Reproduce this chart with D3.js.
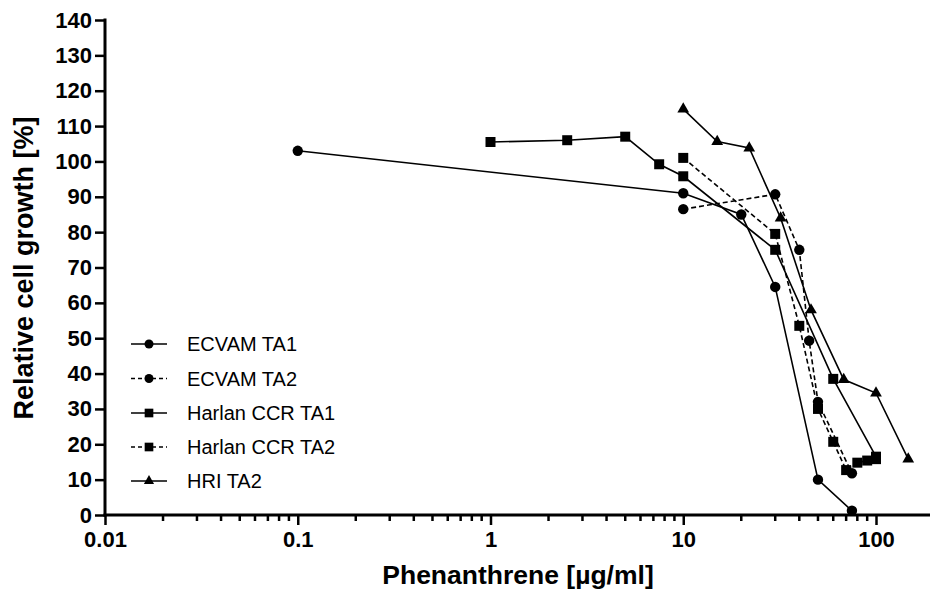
<!DOCTYPE html>
<html><head><meta charset="utf-8">
<script src="https://cdn.jsdelivr.net/npm/d3@7"></script>
<style>html,body{margin:0;padding:0;background:#fff;}svg{display:block;}</style>
</head><body>
<svg id="chart" width="930" height="591"></svg>
<script>
// ---- data ----
const seriesNames = ["ECVAM TA1", "ECVAM TA2", "Harlan CCR TA1", "Harlan CCR TA2", "HRI TA2"];
const ecvamTA1X = [0.1, 10, 20, 30, 50, 75];
const ecvamTA1Y = [103, 91, 85, 64.5, 10, 1.2];
const ecvamTA2X = [10, 30, 40, 45, 50, 75];
const ecvamTA2Y = [86.5, 90.7, 75, 49.3, 32, 11.8];
const harlanTA1X = [1, 2.5, 5, 7.5, 10, 30, 60, 100];
const harlanTA1Y = [105.5, 106, 107, 99.2, 95.8, 75, 38.5, 16.5];
const harlanTA2X = [10, 30, 40, 50, 60, 70, 80, 90, 100];
const harlanTA2Y = [101, 79.5, 53.5, 30, 20.7, 12.7, 14.8, 15.4, 15.8];
const hriTA2X = [10, 15, 22, 32, 46, 68, 100, 147];
const hriTA2Y = [114.8, 105.6, 103.8, 84, 58, 38.3, 34.5, 15.8];
const xTickValues = [0.01, 0.1, 1, 10, 100];
const xTickLabels = ["0.01", "0.1", "1", "10", "100"];
const yTickValues = [0, 10, 20, 30, 40, 50, 60, 70, 80, 90, 100, 110, 120, 130, 140];

// ---- build ----
const series = [
  {name: seriesNames[0], xs: ecvamTA1X, ys: ecvamTA1Y, sym: d3.symbolCircle, dash: null},
  {name: seriesNames[1], xs: ecvamTA2X, ys: ecvamTA2Y, sym: d3.symbolCircle, dash: "5,3"},
  {name: seriesNames[2], xs: harlanTA1X, ys: harlanTA1Y, sym: d3.symbolSquare, dash: null},
  {name: seriesNames[3], xs: harlanTA2X, ys: harlanTA2Y, sym: d3.symbolSquare, dash: "5,3"},
  {name: seriesNames[4], xs: hriTA2X, ys: hriTA2Y, sym: d3.symbolTriangle, dash: null}
];
const symSize = {circle: 85, square: 100, triangle: 60};
function sizeOf(sym){ return sym===d3.symbolCircle?symSize.circle:(sym===d3.symbolSquare?symSize.square:symSize.triangle); }

const svg = d3.select("#chart");
const x = d3.scaleLog().domain([0.01, 200]).range([105, 105 + 192.75 * Math.log10(20000)]);
const y = d3.scaleLinear().domain([0, 140]).range([515, 20]);

const font = "Arial, 'Liberation Sans', sans-serif";

// series lines
const line = d3.line().x(d => x(d[0])).y(d => y(d[1]));
series.forEach(s => {
  const pts = s.xs.map((v, i) => [v, s.ys[i]]);
  svg.append("path").datum(pts)
    .attr("d", line).attr("fill", "none").attr("stroke", "#000")
    .attr("stroke-width", 1.6)
    .attr("stroke-dasharray", s.dash);
});
series.forEach(s => {
  const pts = s.xs.map((v, i) => [v, s.ys[i]]);
  svg.selectAll(null).data(pts).enter().append("path")
    .attr("d", d3.symbol().type(s.sym).size(sizeOf(s.sym)))
    .attr("transform", d => `translate(${x(d[0])},${y(d[1])})`)
    .attr("fill", "#000");
});

// y axis
const yAxis = d3.axisLeft(y).tickValues(yTickValues).tickSize(10).tickPadding(3).tickFormat(d3.format("d"));
const gy = svg.append("g").attr("transform", "translate(105,0)").call(yAxis);
gy.select(".domain").attr("stroke-width", 3).attr("d", "M0,18.5V516.5");
gy.selectAll(".tick line").attr("stroke-width", 2.5);
gy.selectAll(".tick text").attr("font-family", font).attr("font-weight", "bold").attr("font-size", 22).attr("fill", "#000");

// x axis (major)
const xAxis = d3.axisBottom(x).tickValues(xTickValues).tickSize(10).tickPadding(6)
  .tickFormat((d, i) => xTickLabels[i]);
const gx = svg.append("g").attr("transform", "translate(0,515)").call(xAxis);
gx.select(".domain").attr("stroke-width", 3).attr("d", "M103.5,0H935");
gx.selectAll(".tick line").attr("stroke-width", 2.5);
gx.selectAll(".tick text").attr("font-family", font).attr("font-weight", "bold").attr("font-size", 22).attr("fill", "#000");

// minor x ticks
const minor = [];
[0.01, 0.1, 1, 10, 100].forEach(dec => { for (let k = 2; k <= 9; k++) { if (dec * k <= 200) minor.push(dec * k); } });
svg.append("g").selectAll("line").data(minor).enter().append("line")
  .attr("x1", d => x(d)).attr("x2", d => x(d)).attr("y1", 515).attr("y2", 521)
  .attr("stroke", "#000").attr("stroke-width", 2.5);

// axis titles
svg.append("text").attr("x", 518).attr("y", 584).attr("text-anchor", "middle")
  .attr("font-family", font).attr("font-weight", "bold").attr("font-size", 26.5)
  .text("Phenanthrene [µg/ml]");
svg.append("text").attr("transform", "translate(33,268) rotate(-90)").attr("text-anchor", "middle")
  .attr("font-family", font).attr("font-weight", "bold").attr("font-size", 27)
  .text("Relative cell growth [%]");

// legend
const legY = [344, 378.5, 413, 447, 481];
series.forEach((s, i) => {
  const g = svg.append("g").attr("transform", `translate(0,${legY[i]})`);
  g.append("line").attr("x1", 131).attr("x2", 167).attr("y1", 0).attr("y2", 0)
    .attr("stroke", "#000").attr("stroke-width", 1.6).attr("stroke-dasharray", s.dash ? "4,3" : null);
  g.append("path").attr("d", d3.symbol().type(s.sym).size(sizeOf(s.sym) * 0.75))
    .attr("transform", "translate(149,0)").attr("fill", "#000");
  g.append("text").attr("x", 187).attr("y", 7).attr("font-family", font).attr("font-size", 20)
    .attr("fill", "#000").text(s.name);
});
</script>
</body></html>
